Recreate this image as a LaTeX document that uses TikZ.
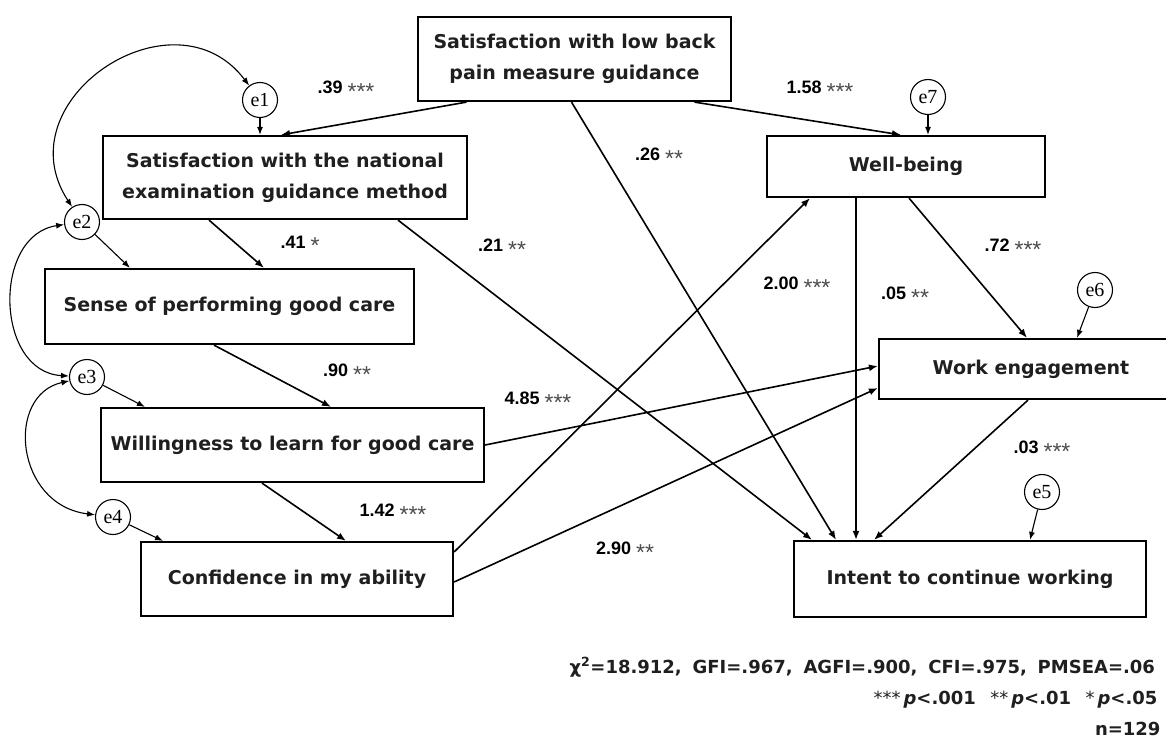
\documentclass[tikz,border=0pt]{standalone}
\usepackage{fontspec}
\setmainfont{DejaVu Sans}
\newfontfamily\coeffont{Liberation Sans}
\newfontfamily\errfont{Liberation Serif}
\usetikzlibrary{arrows.meta}

\newcommand\coefl[2]{#1 {\mdseries\fontsize{23}{23}\selectfont\color{black!70}\raisebox{-0.24em}{#2}}}

\begin{document}
\begin{tikzpicture}[x=1pt,y=-1pt,
  var/.style={rectangle,draw,line width=2.2pt,inner sep=0pt,align=center,
    font=\fontsize{19}{31}\selectfont\bfseries,text=black!88},
  err/.style={circle,draw,line width=1.1pt,minimum size=35pt,inner sep=0pt,
    font=\errfont\fontsize{20}{20}\selectfont},
  causal/.style={-{Latex[length=9pt,width=7pt]},line width=1.6pt},
  errarrow/.style={-{Latex[length=8pt,width=6pt]},line width=1.1pt},
  cov/.style={{Latex[length=8pt,width=6pt]}-{Latex[length=8pt,width=6pt]},line width=1.1pt},
  coef/.style={font=\coeffont\fontsize{18}{18}\selectfont\bfseries},
  note/.style={anchor=base west,font=\fontsize{18}{18}\selectfont\bfseries,text=black!88}]

\useasboundingbox (0,0) rectangle (1166,738);

% observed variables
\node[var,minimum width=313pt,minimum height=84pt] (lbp) at (574.5,59) {Satisfaction with low back\\pain measure guidance};
\node[var,minimum width=364pt,minimum height=83pt] (nat) at (285,177.5) {Satisfaction with the national\\examination guidance method};
\node[var,minimum width=369pt,minimum height=75pt] (sense) at (229.5,306.5) {Sense of performing good care};
\node[var,minimum width=383pt,minimum height=74pt] (will) at (292.5,445) {Willingness to learn for good care};
\node[var,minimum width=312pt,minimum height=74pt] (conf) at (297,579) {Confidence in my ability};
\node[var,minimum width=278pt,minimum height=61pt] (wb) at (906,166.5) {Well-being};
\node[var,minimum width=304pt,minimum height=60pt] (we) at (1031,369) {Work engagement};
\node[var,minimum width=352pt,minimum height=76pt] (intent) at (970,579) {Intent to continue working};

% error terms
\foreach \n/\x/\y in {1/260/100, 2/82/222, 3/87/377, 4/113/517, 5/1042/492, 6/1095/290, 7/928/97}
  \node[err] (e\n) at (\x,\y) {e\n};

% paths
\draw[causal] ([xshift=-108pt]lbp.south) -- ([xshift=-4pt]nat.north);
\draw[causal] ([xshift=120pt]lbp.south) -- ([xshift=-5pt]wb.north);
\draw[causal] ([xshift=-3pt]lbp.south) -- ([xshift=-134pt]intent.north);
\draw[causal] ([xshift=-76pt]nat.south) -- ([xshift=34.5pt]sense.north);
\draw[causal] ([xshift=113pt]nat.south) -- ([xshift=-158pt]intent.north);
\draw[causal] ([xshift=-15.5pt]sense.south) -- ([xshift=38.5pt]will.north);
\draw[causal] ([yshift=0pt]will.east) -- ([yshift=3pt]we.west);
\draw[causal] ([xshift=-30.5pt]will.south) -- ([xshift=49pt]conf.north);
\draw[causal] ([yshift=27pt]conf.east) -- ([xshift=-96pt]wb.south);
\draw[causal] ([yshift=-3pt]conf.east) -- ([yshift=-19pt]we.west);
\draw[causal] ([xshift=-50pt]wb.south) -- ([xshift=-114pt]intent.north);
\draw[causal] ([xshift=3pt]wb.south) -- ([xshift=-4pt]we.north);
\draw[causal] ([xshift=-3pt]we.south) -- ([xshift=-96pt]intent.north);

% error arrows
\draw[errarrow] (e1) -- ([xshift=-25pt]nat.north);
\draw[errarrow] (e2) -- ([xshift=-99.5pt]sense.north);
\draw[errarrow] (e3) -- ([xshift=-147.5pt]will.north);
\draw[errarrow] (e4) -- ([xshift=-134pt]conf.north);
\draw[errarrow] (e5) -- ([xshift=60pt]intent.north);
\draw[errarrow] (e6) -- ([xshift=46pt]we.north);
\draw[errarrow] (e7) -- ([xshift=22pt]wb.north);

% covariances
\draw[cov] (e1) .. controls (174,-14) and (2,100) .. (e2);
\draw[cov] (e2) .. controls (-8,235) and (-5,372) .. (e3);
\draw[cov] (e3) .. controls (5,395) and (15,505) .. (e4);

% coefficients
\node[coef] (c1) at (346,90) {\coefl{.39}{***}};
\node[coef] (c2) at (820,90) {\coefl{1.58}{***}};
\node[coef] (c3) at (659,157) {\coefl{.26}{**}};
\node[coef] (c4) at (300,245) {\coefl{.41}{*}};
\node[coef] (c5) at (502,248) {\coefl{.21}{**}};
\node[coef] (c6) at (1013,248) {\coefl{.72}{***}};
\node[coef] (c7) at (797,286) {\coefl{2.00}{***}};
\node[coef] (c8) at (905,296) {\coefl{.05}{**}};
\node[coef] (c9) at (347,373) {\coefl{.90}{**}};
\node[coef] (c10) at (538,401) {\coefl{4.85}{***}};
\node[coef] (c11) at (1042,450) {\coefl{.03}{***}};
\node[coef] (c12) at (393,513) {\coefl{1.42}{***}};
\node[coef] (c13) at (625,551) {\coefl{2.90}{**}};

% fit indices
\node[note] (fit) at (566,673) {χ\textsuperscript{2}=18.912,\hspace{0.6em}GFI=.967,\hspace{0.6em}AGFI=.900,\hspace{0.6em}CFI=.975,\hspace{0.6em}PMSEA=.06};
\node[note] (sig) at (870,704) {{\mdseries ***}\,\textit{p}<.001\hspace{0.8em}{\mdseries **}\,\textit{p}<.01\hspace{0.8em}{\mdseries *}\,\textit{p}<.05};
\node[note,anchor=base east] (n) at (1164,735) {n=129};

\end{tikzpicture}
\end{document}
